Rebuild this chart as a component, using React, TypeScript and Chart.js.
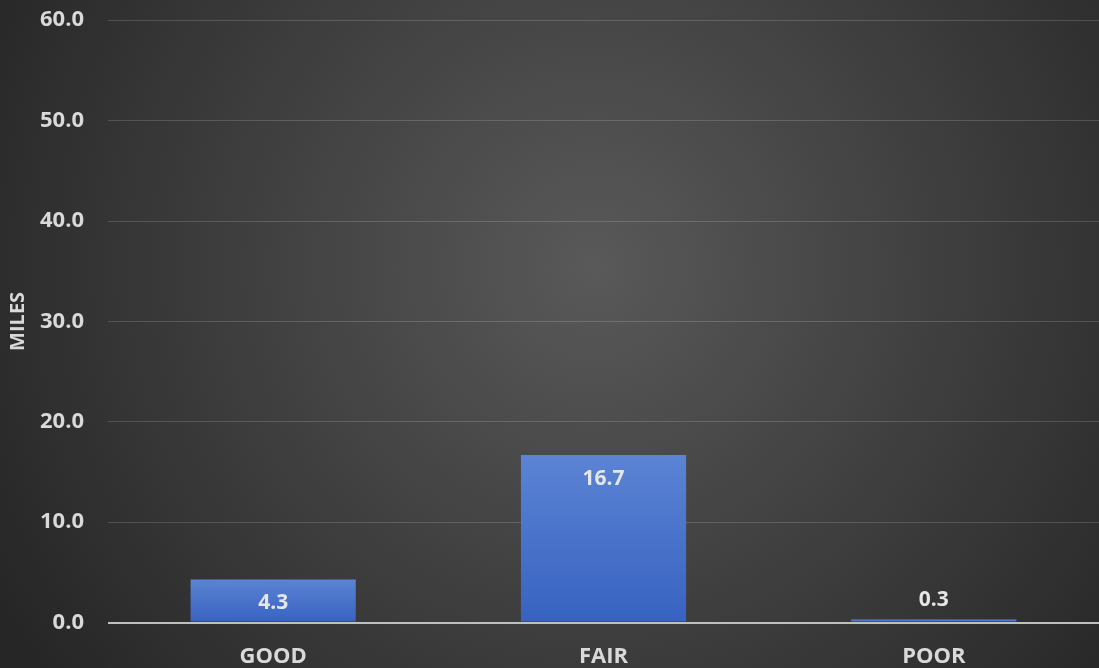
import React, { useEffect, useRef } from "react";
import { Chart, registerables } from "chart.js";

Chart.register(...registerables);

const categories = ["GOOD", "FAIR", "POOR"];
const miles = [4.3, 16.7, 0.3];
const yTicks = [0, 10, 20, 30, 40, 50, 60];

const FONT = "'Open Sans', 'DejaVu Sans', sans-serif";

const bgPlugin = {
  id: "bgPlugin",
  beforeDraw(chart: any) {
    const { ctx, width, height } = chart;
    ctx.save();
    const g = ctx.createRadialGradient(width * 0.54, height * 0.4, 0, width * 0.54, height * 0.4, width * 0.62);
    g.addColorStop(0, "#595959");
    g.addColorStop(1, "#262626");
    ctx.fillStyle = g;
    ctx.fillRect(0, 0, width, height);
    ctx.restore();
  },
};

const labelPlugin = {
  id: "labelPlugin",
  afterDatasetsDraw(chart: any) {
    const { ctx } = chart;
    const meta = chart.getDatasetMeta(0);
    ctx.save();
    ctx.font = `bold 21px ${FONT}`;
    ctx.fillStyle = "#e6e6e6";
    ctx.textAlign = "center";
    ctx.textBaseline = "middle";
    meta.data.forEach((bar: any, i: number) => {
      const v = miles[i];
      const h = bar.base - bar.y;
      const y = h > 30 ? bar.y + 24 : bar.y - 20;
      ctx.fillText(v.toFixed(1), bar.x, y);
    });
    ctx.restore();
  },
};

export default function App() {
  const ref = useRef<HTMLCanvasElement>(null);
  useEffect(() => {
    document.body.style.margin = "0";
    const canvas = ref.current!;
    const chart = new Chart(canvas, {
      type: "bar",
      data: {
        labels: categories,
        datasets: [
          {
            data: miles,
            backgroundColor: (c: any) => {
              const ch = c.chart;
              const area = ch.chartArea;
              if (!area) return "#4472c4";
              const ys = ch.scales.y;
              const v = miles[c.dataIndex] ?? 0;
              const top = ys.getPixelForValue(v);
              const bot = ys.getPixelForValue(0);
              const g = ch.ctx.createLinearGradient(0, top, 0, Math.max(bot, top + 1));
              g.addColorStop(0, "#5b84d4");
              g.addColorStop(1, "#3762c0");
              return g;
            },
            borderWidth: 0,
            barPercentage: 0.5,
            categoryPercentage: 1,
          },
        ],
      },
      options: {
        responsive: false,
        animation: false,
        devicePixelRatio: 1,
        layout: { padding: { top: 0, left: 0, right: 0, bottom: 0 } },
        plugins: { legend: { display: false }, tooltip: { enabled: false } },
        scales: {
          x: {
            grid: { display: false, drawTicks: false },
            border: { display: false },
            ticks: { color: "#d9d9d9", font: { family: FONT, size: 22, weight: "bold" }, padding: 21 },
          },
          y: {
            min: 0,
            max: 60,
            afterBuildTicks: (s: any) => {
              s.ticks = yTicks.map((v) => ({ value: v }));
            },
            afterFit: (s: any) => {
              s.width -= 18;
            },
            grid: {
              drawTicks: false,
              color: (c: any) => (c.tick && c.tick.value === 0 ? "#bfbfbf" : "rgba(255,255,255,0.16)"),
              lineWidth: (c: any) => (c.tick && c.tick.value === 0 ? 2 : 1),
            },
            border: { display: false },
            ticks: {
              color: "#d9d9d9",
              font: { family: FONT, size: 22, weight: "bold" },
              padding: 24,
              callback: (v: any) => Number(v).toFixed(1),
            },
            title: {
              display: true,
              text: "MILES",
              color: "#d9d9d9",
              font: { family: FONT, size: 20, weight: "bold" },
              padding: { top: 6, bottom: 4 },
            },
          },
        },
      },
      plugins: [bgPlugin, labelPlugin],
    });
    return () => chart.destroy();
  }, []);
  return (
    <div style={{ position: "fixed", left: 0, top: 0, width: 1099, height: 668, overflow: "hidden" }}>
      <canvas ref={ref} width={1099} height={708} style={{ display: "block", marginTop: -17 }} />
    </div>
  );
}
